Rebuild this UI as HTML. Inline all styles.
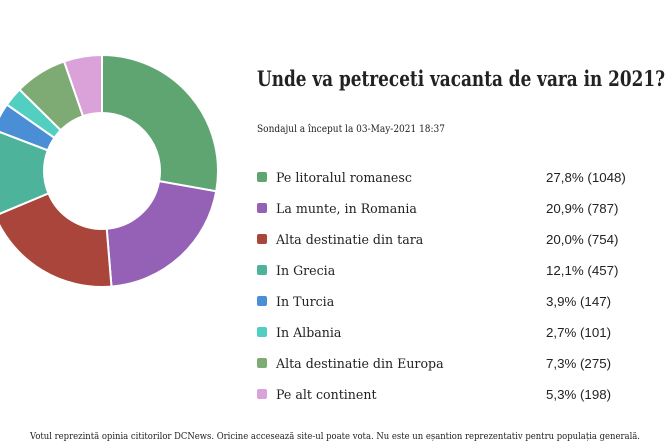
<!DOCTYPE html>
<html><head><meta charset="utf-8"><style>
html,body{margin:0;padding:0;background:#fff;width:670px;height:447px;overflow:hidden}
svg{display:block}
text{font-family:"DejaVu Serif","Liberation Serif",serif;fill:#222}
.v{font-family:"Liberation Sans",sans-serif}
</style></head><body>
<svg id="s" width="670" height="447" viewBox="0 0 670 447">
<g id="d"></g>
<text x="257" y="86" font-size="21" font-weight="bold" textLength="408" lengthAdjust="spacingAndGlyphs" fill="#111">Unde va petreceti vacanta de vara in 2021?</text>
<text x="257" y="132" font-size="10" textLength="188" lengthAdjust="spacingAndGlyphs">Sondajul a început la 03-May-2021 18:37</text>
<g id="l"></g>
<text x="335" y="439" font-size="9.5" text-anchor="middle" textLength="610" lengthAdjust="spacingAndGlyphs">Votul reprezintă opinia cititorilor DCNews. Oricine accesează site-ul poate vota. Nu este un eșantion reprezentativ pentru populația generală.</text>
</svg>
<script>
var data=[["Pe litoralul romanesc",27.8,"1048","#5fa572"],["La munte, in Romania",20.9,"787","#9561b6"],["Alta destinatie din tara",20.0,"754","#a9453a"],["In Grecia",12.1,"457","#4db39a"],["In Turcia",3.9,"147","#4a8fd6"],["In Albania",2.7,"101","#52cfc0"],["Alta destinatie din Europa",7.3,"275","#7eaa74"],["Pe alt continent",5.3,"198","#dba2da"]];
var cx=102,cy=171,R=116,r=58,a=0,d="",l="";
function p(rad,ang){return [cx+rad*Math.sin(ang),cy-rad*Math.cos(ang)];}
data.forEach(function(o,i){
 var b=a+o[1]/100*2*Math.PI,lg=(b-a)>Math.PI?1:0;
 var p1=p(R,a),p2=p(R,b),p3=p(r,b),p4=p(r,a);
 d+='<path d="M'+p1+' A'+R+','+R+' 0 '+lg+' 1 '+p2+' L'+p3+' A'+r+','+r+' 0 '+lg+' 0 '+p4+' Z" fill="'+o[3]+'" stroke="#fff" stroke-width="2"/>';
 a=b;
 var y=177+31*i;
 l+='<rect x="257" y="'+(y-5)+'" width="10" height="10" rx="2" fill="'+o[3]+'"/>';
 l+='<text x="276" y="'+(y+5)+'" font-size="12.6">'+o[0]+'</text>';
 l+='<text class="v" x="546" y="'+(y+5)+'" font-size="13.3">'+o[1].toFixed(1).replace(".",",")+'% ('+o[2]+')</text>';
});
document.getElementById("d").innerHTML=d;
document.getElementById("l").innerHTML=l;
</script>
</body></html>
